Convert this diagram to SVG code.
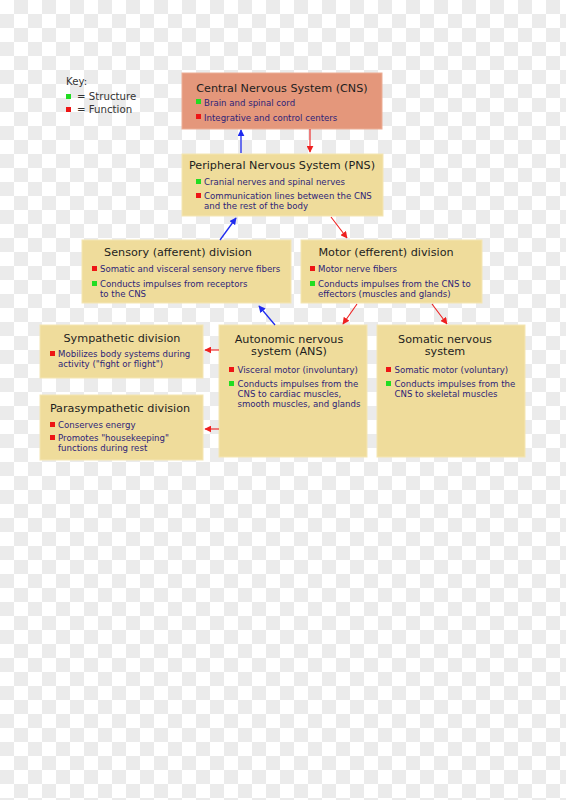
<svg xmlns="http://www.w3.org/2000/svg" width="566" height="800" viewBox="0 0 566 800">
<defs>
<pattern id="chk" x="0" y="0" width="28" height="28" patternUnits="userSpaceOnUse">
<rect width="28" height="28" fill="#ffffff"/>
<rect x="14" y="0" width="14" height="14" fill="#ebebeb"/>
<rect x="0" y="14" width="14" height="14" fill="#ebebeb"/>
</pattern>
<marker id="ab" viewBox="0 0 10 10" refX="9" refY="5" markerWidth="7" markerHeight="7" markerUnits="userSpaceOnUse" orient="auto"><path d="M0,0 L10,5 L0,10 z" fill="#1f2bef"/></marker>
<marker id="ar" viewBox="0 0 10 10" refX="9" refY="5" markerWidth="7" markerHeight="7" markerUnits="userSpaceOnUse" orient="auto"><path d="M0,0 L10,5 L0,10 z" fill="#ee2020"/></marker>
</defs>
<style>
.box{fill:#efdc9b;stroke:#f4e6b4;stroke-width:1}
.cns{fill:#e4977b;stroke:#ecae96;stroke-width:1}
.t{font-family:"DejaVu Sans",sans-serif;font-size:11.2px;fill:#1e1e1e;text-anchor:middle}
.b{font-family:"DejaVu Sans",sans-serif;font-size:8.6px;fill:#2e1f78}
.k{font-family:"DejaVu Sans",sans-serif;font-size:10.2px;fill:#333333}
.g{fill:#22dd22}
.r{fill:#ee1515}
.lb{stroke:#1f2bef;stroke-width:1.3;fill:none;marker-end:url(#ab)}
.lr{stroke:#ee2020;stroke-width:1.1;fill:none;marker-end:url(#ar)}
</style>
<rect width="566" height="800" fill="url(#chk)"/>

<g id="key">
<text class="k" x="66" y="85">Key:</text>
<rect class="g" x="66" y="94" width="5" height="5"/>
<text class="k" x="77" y="100">= Structure</text>
<rect class="r" x="66" y="107" width="5" height="5"/>
<text class="k" x="77" y="113">= Function</text>
</g>

<g id="cns">
<rect class="cns" x="182" y="73" width="200" height="56"/>
<text class="t" x="282" y="92">Central Nervous System (CNS)</text>
<rect class="g" x="196" y="99" width="5" height="5"/>
<text class="b" x="204" y="105.5">Brain and spinal cord</text>
<rect class="r" x="196" y="114" width="5" height="5"/>
<text class="b" x="204" y="120.5">Integrative and control centers</text>
</g>

<g id="pns">
<rect class="box" x="182" y="154" width="201" height="62"/>
<text class="t" x="282" y="169">Peripheral Nervous System (PNS)</text>
<rect class="g" x="196" y="179" width="5" height="5"/>
<text class="b" x="204" y="185">Cranial nerves and spinal nerves</text>
<rect class="r" x="196" y="193" width="5" height="5"/>
<text class="b" x="204" y="199">Communication lines between the CNS</text>
<text class="b" x="204" y="209">and the rest of the body</text>
</g>

<g id="sensory">
<rect class="box" x="82" y="240" width="209" height="63"/>
<text class="t" x="178" y="256">Sensory (afferent) division</text>
<rect class="r" x="92" y="266" width="5" height="5"/>
<text class="b" x="100" y="272">Somatic and visceral sensory nerve fibers</text>
<rect class="g" x="92" y="281" width="5" height="5"/>
<text class="b" x="100" y="287">Conducts impulses from receptors</text>
<text class="b" x="100" y="297">to the CNS</text>
</g>

<g id="motor">
<rect class="box" x="301" y="240" width="181" height="63"/>
<text class="t" x="386" y="256">Motor (efferent) division</text>
<rect class="r" x="310" y="266" width="5" height="5"/>
<text class="b" x="318" y="272">Motor nerve fibers</text>
<rect class="g" x="310" y="281" width="5" height="5"/>
<text class="b" x="318" y="287">Conducts impulses from the CNS to</text>
<text class="b" x="318" y="297">effectors (muscles and glands)</text>
</g>

<g id="sympathetic">
<rect class="box" x="40" y="325" width="163" height="53"/>
<text class="t" x="122" y="342">Sympathetic division</text>
<rect class="r" x="50" y="351" width="5" height="5"/>
<text class="b" x="58" y="357">Mobilizes body systems during</text>
<text class="b" x="58" y="367">activity ("fight or flight")</text>
</g>

<g id="parasympathetic">
<rect class="box" x="40" y="395" width="163" height="65"/>
<text class="t" x="120" y="412">Parasympathetic division</text>
<rect class="r" x="50" y="422" width="5" height="5"/>
<text class="b" x="58" y="428">Conserves energy</text>
<rect class="r" x="50" y="435" width="5" height="5"/>
<text class="b" x="58" y="441">Promotes "housekeeping"</text>
<text class="b" x="58" y="451">functions during rest</text>
</g>

<g id="ans">
<rect class="box" x="219" y="325" width="148" height="132"/>
<text class="t" x="289" y="342.5">Autonomic nervous</text>
<text class="t" x="289" y="354.5">system (ANS)</text>
<rect class="r" x="229" y="367" width="5" height="5"/>
<text class="b" x="237.5" y="373">Visceral motor (involuntary)</text>
<rect class="g" x="229" y="381" width="5" height="5"/>
<text class="b" x="237.5" y="387">Conducts impulses from the</text>
<text class="b" x="237.5" y="396.5">CNS to cardiac muscles,</text>
<text class="b" x="237.5" y="406.5">smooth muscles, and glands</text>
</g>

<g id="somatic">
<rect class="box" x="377" y="325" width="148" height="132"/>
<text class="t" x="445" y="342.5">Somatic nervous</text>
<text class="t" x="445" y="354.5">system</text>
<rect class="r" x="386" y="367" width="5" height="5"/>
<text class="b" x="394.5" y="373">Somatic motor (voluntary)</text>
<rect class="g" x="386" y="381" width="5" height="5"/>
<text class="b" x="394.5" y="387">Conducts impulses from the</text>
<text class="b" x="394.5" y="396.5">CNS to skeletal muscles</text>
</g>

<g id="connectors">
<line class="lb" x1="241" y1="153" x2="241" y2="130"/>
<line class="lr" x1="310" y1="129" x2="310" y2="152"/>
<line class="lb" x1="220" y1="240" x2="236" y2="218"/>
<line class="lr" x1="331" y1="217" x2="347" y2="238"/>
<line class="lb" x1="275" y1="325" x2="259" y2="306"/>
<line class="lr" x1="357" y1="304" x2="343" y2="324"/>
<line class="lr" x1="432" y1="304" x2="447" y2="324"/>
<line class="lr" x1="219" y1="350" x2="205" y2="350"/>
<line class="lr" x1="219" y1="429" x2="205" y2="429"/>
</g>
</svg>
